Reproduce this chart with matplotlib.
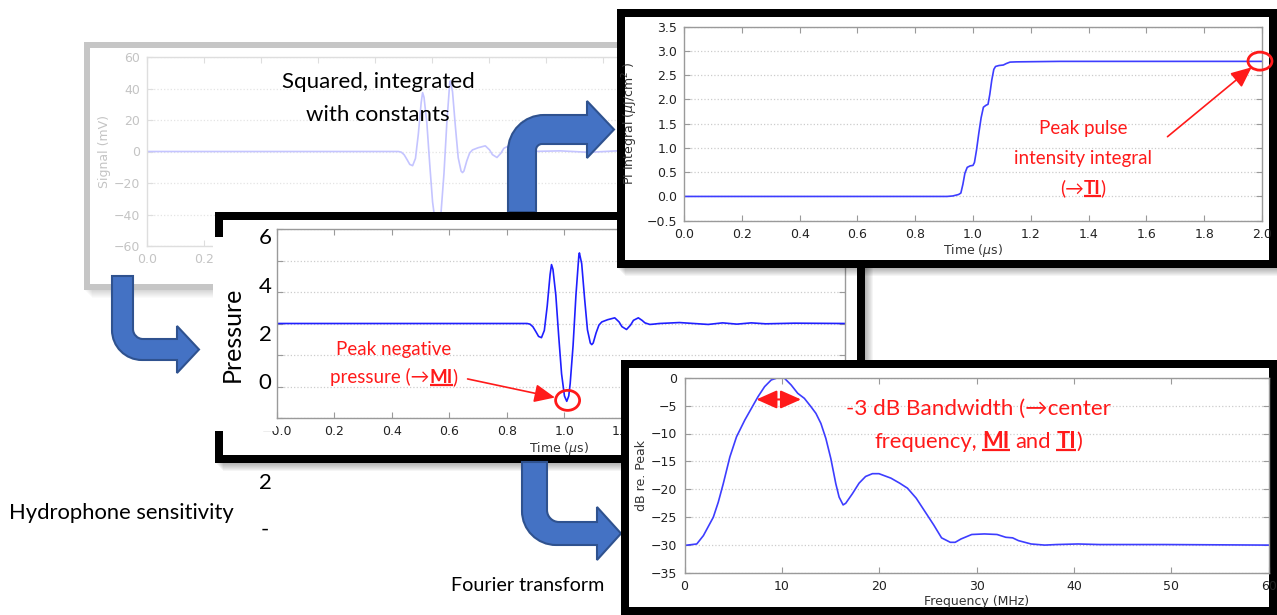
import matplotlib.pyplot as plt
from matplotlib.patches import Rectangle, Ellipse, PathPatch
from matplotlib.path import Path

# ---- values ----
# faded raw hydrophone signal (mV) against time (us)
sig_t = [0.0, 0.872, 0.882, 0.892, 0.902, 0.912, 0.922, 0.932, 0.942, 0.952,
         0.962, 0.967, 0.972, 0.982, 0.992, 1.002, 1.012, 1.020, 1.027, 1.032,
         1.042, 1.052, 1.062, 1.064, 1.072, 1.082, 1.092, 1.102, 1.107, 1.112,
         1.122, 1.132, 1.142, 1.162, 1.187, 1.202, 1.212, 1.228, 1.242, 1.252,
         1.269, 1.282, 1.292, 1.309, 1.322, 1.342, 1.45, 1.55, 1.65, 1.75, 2.0]
sig_mv = [0, 0, 0, -0.4, -2, -5, -8.2, -9, -4.4, 11,
          31, 37.4, 34.4, 18, -8, -32, -46, -49, -46, -38,
          -14, 18, 43, 44.8, 38, 16, -4, -12.4, -13.4, -12.4,
          -6, -1, 1, 2.4, 3.6, 1, -2, -3.8, -1, 2,
          3.6, 2, 0.4, -0.6, -0.4, 0, 0.4, -0.5, 0.4, -0.2, 0]

# pressure waveform
p_t = [0.0, 0.86, 0.87, 0.88, 0.89, 0.90, 0.91, 0.92, 0.93, 0.94,
       0.95, 0.955, 0.96, 0.97, 0.98, 0.99, 1.00, 1.008, 1.015, 1.02,
       1.03, 1.04, 1.05, 1.052, 1.06, 1.07, 1.08, 1.09, 1.095, 1.10,
       1.11, 1.12, 1.13, 1.15, 1.175, 1.19, 1.20, 1.216, 1.23, 1.24,
       1.257, 1.27, 1.28, 1.297, 1.31, 1.33, 1.40, 1.45, 1.50, 1.55,
       1.60, 1.65, 1.70, 1.80, 1.976]
p_val = [2.0, 2.0, 2.0, 1.98, 1.90, 1.75, 1.59, 1.55, 1.78, 2.55,
         3.55, 3.87, 3.72, 2.90, 1.60, 0.40, -0.30, -0.47, -0.30, 0.10,
         1.30, 2.90, 4.15, 4.24, 3.90, 2.80, 1.80, 1.38, 1.33, 1.38,
         1.70, 1.95, 2.05, 2.12, 2.18, 2.05, 1.90, 1.81, 1.95, 2.10,
         2.18, 2.10, 2.02, 1.97, 1.98, 2.00, 2.03, 2.0, 1.97, 2.02,
         1.98, 2.02, 1.99, 2.01, 2.0]

# pulse intensity integral (uJ/cm^2)
pi_t = [0.0, 0.91, 0.93, 0.95, 0.958, 0.965, 0.972, 0.98, 0.99, 1.0,
        1.005, 1.012, 1.02, 1.028, 1.036, 1.045, 1.052, 1.058, 1.065, 1.072,
        1.078, 1.09, 1.105, 1.115, 1.128, 1.15, 1.3, 2.0]
pi_val = [0.0, 0.0, 0.01, 0.04, 0.07, 0.25, 0.48, 0.60, 0.63, 0.64,
          0.70, 0.95, 1.30, 1.62, 1.84, 1.88, 1.90, 2.10, 2.40, 2.62,
          2.68, 2.70, 2.71, 2.74, 2.77, 2.775, 2.785, 2.785]

# spectrum, dB re. peak
f_mhz = [0, 1.26, 1.94, 2.96, 3.47, 3.98, 4.66, 5.34, 6.19, 6.87,
         7.55, 8.23, 8.91, 9.59, 10.27, 10.95, 11.63, 12.31, 12.99, 13.5,
         14.01, 14.52, 15.03, 15.54, 15.88, 16.29, 16.56, 17.24, 17.93, 18.6,
         19.3, 19.97, 21.2, 22.1, 22.9, 23.8, 24.7, 25.6, 26.4, 27.3,
         27.8, 28.4, 29.5, 30.8, 32.1, 33.0, 33.7, 34.3, 35.6, 37.0,
         38.2, 40.4, 42.6, 44.8, 49.2, 60.0]
f_db = [-30.06, -29.8, -28.3, -25, -22.3, -19, -14.2, -10.6, -7.6, -5.5,
        -3.4, -1.6, -0.4, 0, -0.1, -1.3, -2.8, -3.7, -5.2, -6.4,
        -8.2, -10.9, -14.5, -19, -21.4, -22.8, -22.5, -20.8, -18.9, -17.7,
        -17.2, -17.2, -18, -18.9, -19.8, -21.6, -24, -26.4, -28.7, -29.5,
        -29.5, -28.9, -28.1, -28, -28.1, -28.6, -28.7, -29.2, -29.8, -30,
        -29.9, -29.8, -29.9, -29.9, -29.9, -30]

# labels of the pressure time axis; the ones past 1.2 sit under the spectrum panel
press_xlabels = ['\u22120.0', '0.2', '0.4', '0.6', '0.8', '1.0', '1.2', '', '', '']

FONT = ['Lato', 'DejaVu Sans']
RED = '#ff1a1a'
W, H = 1277, 615

fig = plt.figure(figsize=(W / 100, H / 100), dpi=100)
fig.patch.set_facecolor('white')
r = fig.canvas.get_renderer()


def rect(x0, y0, x1, y1):
    # pixel box (y from top) -> figure fraction
    return [x0 / W, 1 - y1 / H, (x1 - x0) / W, (y1 - y0) / H]


def layer(z):
    L = fig.add_axes([0, 0, 1, 1], zorder=z)
    L.set_xlim(0, W)
    L.set_ylim(H, 0)
    L.axis('off')
    L.patch.set_alpha(0)
    return L


def frame(L, x0, y0, x1, y1, edge, t, shade=0.04):
    for i in range(1, 9):
        L.add_patch(Rectangle((x0 + i, y0 + i), x1 - x0, y1 - y0, fc='black', ec='none', alpha=shade))
    L.add_patch(Rectangle((x0, y0), x1 - x0, y1 - y0, fc=edge, ec='none'))
    L.add_patch(Rectangle((x0 + t, y0 + t), x1 - x0 - 2 * t, y1 - y0 - 2 * t, fc='white', ec='none'))


def bent_arrow(L, xa, xb, yend, yo, yi, ro, ri, xh, hh, xt):
    k = 0.5523
    s = 1 if yo > yi else -1
    yc = (yo + yi) / 2
    verts = [(xa, yend), (xa, yo - s * ro),
             (xa, yo - s * ro * (1 - k)), (xa + ro * (1 - k), yo), (xa + ro, yo),
             (xh, yo), (xh, yc + s * hh), (xt, yc), (xh, yc - s * hh), (xh, yi),
             (xb + ri, yi),
             (xb + ri * (1 - k), yi), (xb, yi - s * ri * (1 - k)), (xb, yi - s * ri),
             (xb, yend), (xa, yend)]
    codes = [Path.MOVETO, Path.LINETO,
             Path.CURVE4, Path.CURVE4, Path.CURVE4,
             Path.LINETO, Path.LINETO, Path.LINETO, Path.LINETO, Path.LINETO,
             Path.LINETO,
             Path.CURVE4, Path.CURVE4, Path.CURVE4,
             Path.LINETO, Path.CLOSEPOLY]
    L.add_patch(PathPatch(Path(verts, codes), fc='#4472C4', ec='#2F528F', lw=1.5))


def style(ax, tc='#222222', sc='#9a9a9a', gc='#cccccc'):
    for sp in ax.spines.values():
        sp.set_color(sc)
        sp.set_linewidth(1.0)
    ax.tick_params(direction='in', top=True, right=True, length=4, color=sc,
                   labelsize=9, labelcolor=tc, pad=5)
    ax.grid(axis='y', ls=':', color=gc, lw=0.9)
    ax.set_axisbelow(True)


def rich(L, xc, yc, parts, size, color):
    y = yc + 0.36 * size * 100 / 72

    def w_of(s, bold=False):
        t = L.text(0, 0, s, fontsize=size, family=FONT, fontweight='bold' if bold else 'normal')
        w = t.get_window_extent(r).width
        t.remove()
        return w

    gap = w_of('a a') - w_of('aa')
    widths = [gap if s == ' ' else w_of(s, b) for s, b in parts]
    x = xc - sum(widths) / 2
    for (s, b), w in zip(parts, widths):
        if s != ' ':
            L.text(x, y, s, fontsize=size, family=FONT, color=color,
                   fontweight='bold' if b else 'normal', ha='left', va='baseline')
            if b:
                L.plot([x, x + w], [y + 2.5, y + 2.5], color=color, lw=1.6, solid_capstyle='butt')
        x += w


# ---- faded signal panel (bottom layer) ----
L0 = layer(0)
frame(L0, 84, 42, 760, 290, '#c6c6c6', 6, shade=0.02)

ax_s = fig.add_axes(rect(147, 57, 717, 246), zorder=1)
ax_s.patch.set_alpha(0)
ax_s.plot(sig_t, sig_mv, color='#c4c4ff', lw=1.2)
ax_s.set_xlim(0, 2)
ax_s.set_ylim(-60, 60)
ax_s.set_xticks([0, 0.2, 0.4, 0.6, 0.8, 1.0, 1.2, 1.4, 1.6, 1.8, 2.0])
ax_s.set_yticks([-60, -40, -20, 0, 20, 40, 60])
style(ax_s, tc='#c4c4c4', sc='#dedede', gc='#e4e4e4')
ax_s.set_ylabel('Signal (mV)', fontsize=9, color='#c4c4c4')
ax_s.yaxis.set_label_coords(-0.063, 0.5)

# ---- blue arrows under the black panels ----
L2 = layer(2)
bent_arrow(L2, 508, 536, 212, 115, 144, 36, 6, 587, 28.5, 614)
bent_arrow(L2, 112, 133, 276, 360, 339, 30, 10, 177, 23.5, 199)

# ---- pressure panel ----
L3 = layer(3)
frame(L3, 215, 212, 865, 463, 'black', 8)

ax_p = fig.add_axes(rect(277, 229, 845, 418), zorder=3.5)
ax_p.patch.set_alpha(0)
ax_p.plot(p_t, p_val, color='#1f1fff', lw=1.2)
ax_p.set_xlim(0, 1.976)
ax_p.set_ylim(-1, 5)
ax_p.set_xticks([0, 0.2, 0.4, 0.6, 0.8, 1.0, 1.2, 1.4, 1.6, 1.8])
ax_p.set_xticklabels(press_xlabels)
ax_p.set_yticks([-1, 0, 1, 2, 3, 4, 5])
style(ax_p)
ax_p.tick_params(labelleft=False)
ax_p.set_xlabel(r'Time ($\mu$s)', fontsize=9, color='#333333')
ax_p.xaxis.set_label_coords(0.496, -0.116)

i_min = p_val.index(min(p_val))
ax_p.add_patch(Ellipse((p_t[i_min] + 0.003, p_val[i_min] + 0.03), 24 / 287.5, 20 / 31.5,
                       fc='none', ec=RED, lw=2, clip_on=False, zorder=5))
ax_p.annotate('', xy=(0.967, -0.35), xytext=(0.663, 0.24),
              arrowprops=dict(arrowstyle='-|>,head_length=0.9,head_width=0.4', color=RED,
                              lw=1.2, mutation_scale=14, shrinkA=0, shrinkB=0))

# white box with the hand-made pressure axis
L4 = layer(4)
L4.add_patch(Rectangle((213, 237), 63, 194, fc='white', ec='none'))
L4.text(232, 334, 'Pressure', rotation=90, fontsize=18, family=FONT, ha='center', va='center')
for yy, s in [(238, '6'), (287, '4'), (335, '2'), (383, '0'), (483, '2'), (530, '-')]:
    L4.text(265, yy, s, fontsize=16, family=FONT, ha='center', va='center')

L5 = layer(5)
bent_arrow(L5, 522, 547, 462, 545, 522, 34, 12, 597, 26.5, 621)

# ---- PI integral panel ----
L6 = layer(6)
frame(L6, 617, 9, 1277, 268, 'black', 8)

ax_i = fig.add_axes(rect(684, 26.7, 1262, 220.7), zorder=7)
ax_i.patch.set_alpha(0)
ax_i.plot(pi_t, pi_val, color='#3d3dff', lw=1.2)
ax_i.set_xlim(0, 2)
ax_i.set_ylim(-0.5, 3.5)
ax_i.set_xticks([0, 0.2, 0.4, 0.6, 0.8, 1.0, 1.2, 1.4, 1.6, 1.8, 2.0])
ax_i.set_yticks([-0.5, 0, 0.5, 1.0, 1.5, 2.0, 2.5, 3.0, 3.5])
style(ax_i)
ax_i.set_xlabel(r'Time ($\mu$s)', fontsize=9, color='#333333')
ax_i.xaxis.set_label_coords(0.5, -0.11)
ax_i.set_ylabel(r'PI Integral ($\mu$J/cm$^2$ )', fontsize=9, color='#333333')
ax_i.yaxis.set_label_coords(-0.076, 0.5)
ax_i.add_patch(Ellipse((pi_t[-1] - 0.007, pi_val[-1] + 0.005), 24 / 289, 18 / 48.5,
                       fc='none', ec=RED, lw=2, clip_on=False, zorder=5))
ax_i.annotate('', xy=(1.964, 2.663), xytext=(1.673, 1.232),
              arrowprops=dict(arrowstyle='-|>,head_length=0.9,head_width=0.4', color=RED,
                              lw=1.2, mutation_scale=14, shrinkA=0, shrinkB=0))

# ---- spectrum panel ----
L8 = layer(8)
frame(L8, 621, 360, 1277, 615, 'black', 8)

ax_f = fig.add_axes(rect(684.5, 377.7, 1268.7, 573), zorder=9)
ax_f.patch.set_alpha(0)
ax_f.plot(f_mhz, f_db, color='#3d3dff', lw=1.2)
ax_f.set_xlim(0, 60)
ax_f.set_ylim(-35, 0)
ax_f.set_xticks([0, 10, 20, 30, 40, 50, 60])
ax_f.set_yticks([-35, -30, -25, -20, -15, -10, -5, 0])
style(ax_f)
ax_f.set_xlabel('Frequency (MHz)', fontsize=9, color='#333333')
ax_f.xaxis.set_label_coords(0.5, -0.113)
ax_f.set_ylabel('dB re. Peak', fontsize=9, color='#333333')
ax_f.yaxis.set_label_coords(-0.0625, 0.5)
ax_f.annotate('', xy=(11.97, -3.9), xytext=(7.38, -3.9),
              arrowprops=dict(arrowstyle='<|-|>,head_length=0.9,head_width=0.4', color=RED,
                              lw=1.5, mutation_scale=14, shrinkA=0, shrinkB=0))

# ---- texts on top ----
LT = layer(10)
rich(LT, 378, 80, [('Squared, integrated', False)], 16, 'black')
rich(LT, 378, 113, [('with constants', False)], 16, 'black')
rich(LT, 121, 511, [('Hydrophone sensitivity', False)], 15.8, 'black')
rich(LT, 528, 584, [('Fourier transform', False)], 14.2, 'black')

rich(LT, 1083, 127, [('Peak pulse', False)], 13.5, RED)
rich(LT, 1083, 157, [('intensity integral', False)], 13.5, RED)
rich(LT, 1083, 187, [('(\u2192', False), ('TI', True), (')', False)], 13.5, RED)

rich(LT, 394, 348, [('Peak negative', False)], 13.5, RED)
rich(LT, 394, 376, [('pressure (\u2192', False), ('MI', True), (')', False)], 13.5, RED)

rich(LT, 978, 407, [('-3 dB Bandwidth (\u2192center', False)], 16.2, RED)
rich(LT, 978, 440, [('frequency,', False), (' ', False), ('MI', True), (' ', False),
                    ('and', False), (' ', False), ('TI', True), (')', False)], 15.8, RED)

fig.savefig('out.png', dpi=100)
